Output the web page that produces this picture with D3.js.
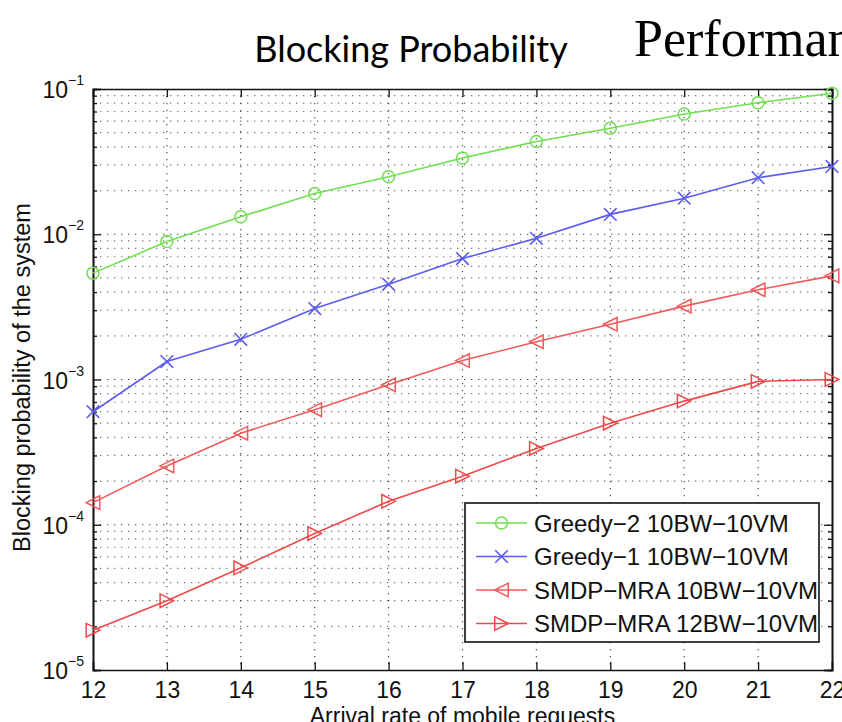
<!DOCTYPE html>
<html><head><meta charset="utf-8">
<script src="https://cdn.jsdelivr.net/npm/d3@7"></script>
<style>
html,body{margin:0;padding:0;background:#fff;overflow:hidden;}
svg{display:block;}
</style></head>
<body>
<svg id="chart" width="842" height="722"></svg>
<script>
const xValues = [12, 13, 14, 15, 16, 17, 18, 19, 20, 21, 22];
const greedy2 = [5.4e-3, 8.9e-3, 1.32e-2, 1.91e-2, 2.49e-2, 3.35e-2, 4.35e-2, 5.37e-2, 6.72e-2, 8.05e-2, 9.35e-2];
const greedy1 = [6.0e-4, 1.33e-3, 1.89e-3, 3.08e-3, 4.52e-3, 6.8e-3, 9.38e-3, 1.37e-2, 1.77e-2, 2.45e-2, 2.93e-2];
const smdp10 = [1.42e-4, 2.54e-4, 4.27e-4, 6.2e-4, 9.2e-4, 1.35e-3, 1.82e-3, 2.4e-3, 3.2e-3, 4.15e-3, 5.17e-3];
const smdp12 = [1.88e-5, 3.0e-5, 5.05e-5, 8.7e-5, 1.45e-4, 2.16e-4, 3.35e-4, 5.0e-4, 7.1e-4, 9.7e-4, 1.0e-3];
const seriesNames = ["Greedy\u22122 10BW\u221210VM", "Greedy\u22121 10BW\u221210VM", "SMDP\u2212MRA 10BW\u221210VM", "SMDP\u2212MRA 12BW\u221210VM"];
const seriesColors = ["#6fe04f", "#5b5bf2", "#f05a5a", "#f04848"];
const seriesMarkers = ["circle", "cross", "triLeft", "triRight"];
const yTickExps = [-1, -2, -3, -4, -5];
const chartTitle = "Blocking Probability";
const slideTitle = "Performance";
const xLabel = "Arrival rate of mobile requests";
const yLabel = "Blocking probability of the system";

const seriesData = [greedy2, greedy1, smdp10, smdp12];

const svg = d3.select("#chart");
const L = 93, R = 832, T = 89, B = 670;
const x = d3.scaleLinear().domain([12, 22]).range([L, R]);
const y = d3.scaleLog().domain([1e-5, 1e-1]).range([B, T]);

// titles
svg.append("text").attr("x", 411).attr("y", 62).attr("text-anchor", "middle")
  .attr("font-family", "Lato, 'Open Sans', sans-serif").attr("font-size", 36)
  .attr("fill", "#000").text(chartTitle);
svg.append("text").attr("x", 634).attr("y", 56)
  .attr("font-family", "'Liberation Serif', 'Times New Roman', serif").attr("font-size", 52)
  .attr("fill", "#000").text(slideTitle);

const g = svg.append("g");
const font = "'Liberation Sans', Arial, Helvetica, sans-serif";

// grid
const minorVals = [];
for (let e = -5; e < -1; e++) for (let m = 2; m <= 9; m++) minorVals.push(m * Math.pow(10, e));
const majorVals = yTickExps.map(e => Math.pow(10, e));
const gridStyle = s => s.attr("stroke", "#000").attr("stroke-width", 1.2).attr("stroke-dasharray", "1.3,5.7").attr("fill", "none");
g.append("g").selectAll("line").data(minorVals.concat(majorVals.filter(v => v > 1e-5 && v < 1e-1))).join("line")
  .attr("x1", L).attr("x2", R).attr("y1", d => y(d)).attr("y2", d => y(d))
  .call(gridStyle).attr("stroke-opacity", d => majorVals.includes(d) ? 0.75 : 0.55);
g.append("g").selectAll("line").data(xValues.slice(1, -1)).join("line")
  .attr("x1", d => x(d)).attr("x2", d => x(d)).attr("y1", T).attr("y2", B)
  .call(gridStyle).attr("stroke-opacity", 0.7);

// axes
const xAxisB = d3.axisBottom(x).tickValues(xValues).tickSize(-8).tickPadding(12).tickFormat(d3.format("d"));
const gxb = g.append("g").attr("transform", `translate(0,${B})`).call(xAxisB);
const xAxisT = d3.axisTop(x).tickValues(xValues).tickSize(-8).tickFormat("");
const gxt = g.append("g").attr("transform", `translate(0,${T})`).call(xAxisT);
const yAxisL = d3.axisLeft(y).tickValues(majorVals).tickSize(-8).tickFormat("");
const gyl = g.append("g").attr("transform", `translate(${L},0)`).call(yAxisL);
const yAxisR = d3.axisRight(y).tickValues(majorVals).tickSize(-8).tickFormat("");
const gyr = g.append("g").attr("transform", `translate(${R},0)`).call(yAxisR);
const yMinL = d3.axisLeft(y).tickValues(minorVals).tickSize(-4).tickFormat("");
const gyml = g.append("g").attr("transform", `translate(${L},0)`).call(yMinL);
const yMinR = d3.axisRight(y).tickValues(minorVals).tickSize(-4).tickFormat("");
const gymr = g.append("g").attr("transform", `translate(${R},0)`).call(yMinR);
[gxb, gxt, gyl, gyr, gyml, gymr].forEach(a => {
  a.select(".domain").attr("stroke", "#111").attr("stroke-width", 1.6);
  a.selectAll(".tick line").attr("stroke", "#111").attr("stroke-width", 1.3);
});
gxb.selectAll(".tick text").attr("font-family", font).attr("font-size", 23).attr("fill", "#111");

// y tick labels with superscripts
const yl = g.append("g").selectAll("text").data(yTickExps).join("text")
  .attr("font-family", font).attr("fill", "#111")
  .attr("transform", d => `translate(68,${y(Math.pow(10, d)) + 9})`)
  .attr("text-anchor", "end");
yl.append("tspan").attr("font-size", 23).text("10");
const ys = g.append("g").selectAll("text").data(yTickExps).join("text")
  .attr("font-family", font).attr("fill", "#111").attr("font-size", 14)
  .attr("x", 68).attr("y", d => y(Math.pow(10, d)) - 4)
  .text(d => "\u2212" + Math.abs(d));

// axis titles
svg.append("text").attr("x", (L + R) / 2).attr("y", 724).attr("text-anchor", "middle")
  .attr("font-family", font).attr("font-size", 23).attr("fill", "#111").text(xLabel);
svg.append("text").attr("transform", `translate(30,${(T + B) / 2 - 2}) rotate(-90)`).attr("text-anchor", "middle")
  .attr("font-family", font).attr("font-size", 23.5).attr("fill", "#111").text(yLabel);

// markers
function drawMarker(sel, type, color, s) {
  if (type === "circle") {
    sel.append("circle").attr("r", s * 0.95).attr("fill", "none").attr("stroke", color).attr("stroke-width", 1.5);
  } else if (type === "cross") {
    sel.append("path").attr("d", `M${-s},${-s}L${s},${s}M${-s},${s}L${s},${-s}`).attr("stroke", color).attr("stroke-width", 1.6).attr("fill", "none");
  } else if (type === "triLeft") {
    sel.append("path").attr("d", `M${-s},0L${s},${-s}L${s},${s}Z`).attr("stroke", color).attr("stroke-width", 1.5).attr("fill", "none");
  } else {
    sel.append("path").attr("d", `M${s},0L${-s},${-s}L${-s},${s}Z`).attr("stroke", color).attr("stroke-width", 1.5).attr("fill", "none");
  }
}
const sizes = [6.3, 6.3, 6.8, 6.8];
const line = d3.line().x((d, i) => x(xValues[i])).y(d => y(d));
seriesData.forEach((vals, k) => {
  const sg = g.append("g");
  sg.append("path").datum(vals).attr("d", line).attr("fill", "none")
    .attr("stroke", seriesColors[k]).attr("stroke-width", 1.6);
  sg.selectAll("g").data(vals).join("g")
    .attr("transform", (d, i) => `translate(${x(xValues[i])},${y(d)})`)
    .each(function () { drawMarker(d3.select(this), seriesMarkers[k], seriesColors[k], sizes[k]); });
});

// legend
const lg = g.append("g");
lg.append("rect").attr("x", 465).attr("y", 503).attr("width", 354).attr("height", 139)
  .attr("fill", "#fff").attr("stroke", "#111").attr("stroke-width", 1.6);
seriesNames.forEach((name, k) => {
  const cy = 523 + k * 33.5;
  lg.append("line").attr("x1", 476).attr("x2", 527).attr("y1", cy).attr("y2", cy)
    .attr("stroke", seriesColors[k]).attr("stroke-width", 1.6);
  const mg = lg.append("g").attr("transform", `translate(501.5,${cy})`);
  drawMarker(mg, seriesMarkers[k], seriesColors[k], sizes[k]);
  lg.append("text").attr("x", 534).attr("y", cy + 8.5).attr("font-family", font)
    .attr("font-size", 24).attr("fill", "#111").text(name);
});
</script>
</body></html>
